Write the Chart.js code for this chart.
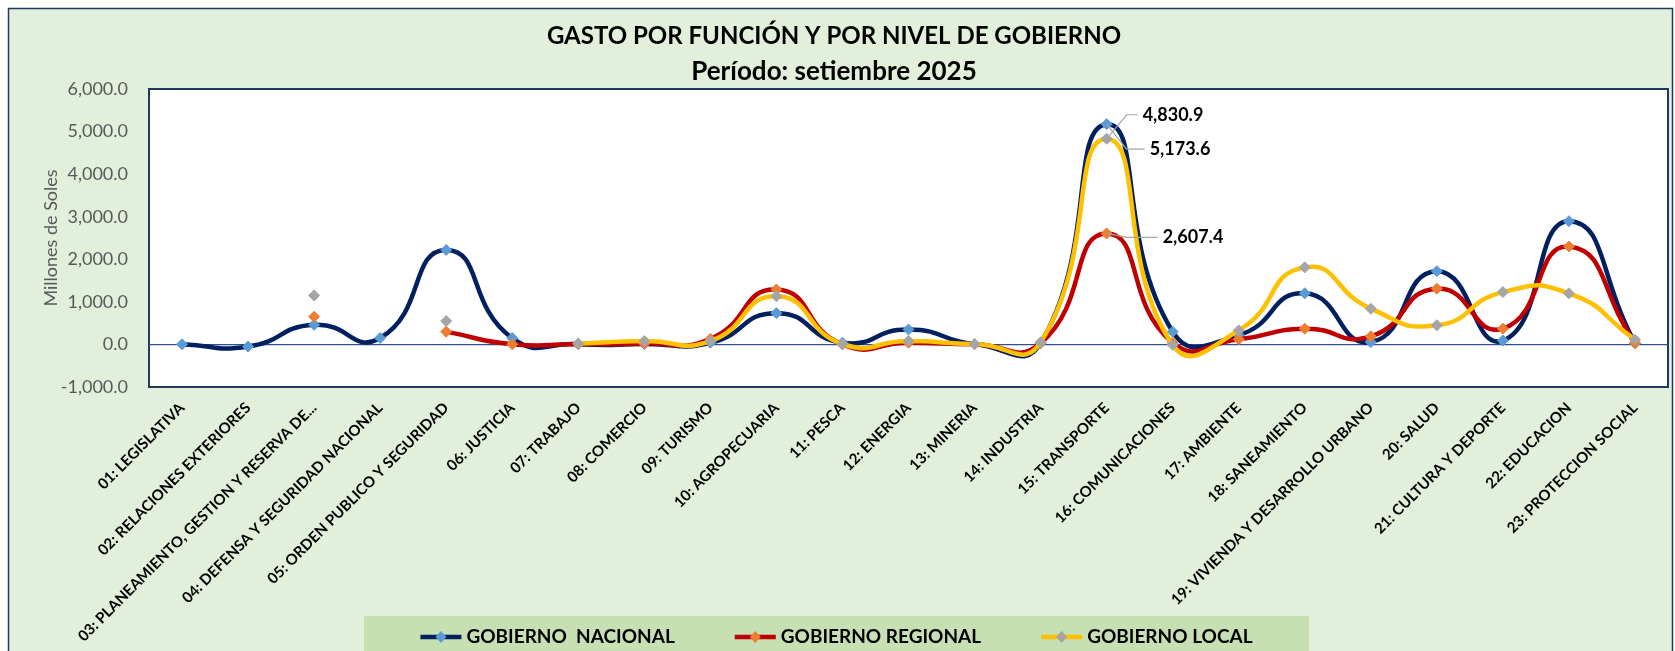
<!DOCTYPE html>
<html>
<head>
<meta charset="utf-8">
<script src="https://cdn.jsdelivr.net/npm/chart.js@4.4.1/dist/chart.umd.min.js"></script>
<style>
  html, body { margin: 0; padding: 0; background: #ffffff; }
  #wrap { width: 1675px; height: 651px; }
</style>
</head>
<body>
<div id="wrap"><canvas id="grafico" width="1675" height="651"></canvas></div>
<script>
const categorias = [
  "01: LEGISLATIVA", "02: RELACIONES EXTERIORES", "03: PLANEAMIENTO, GESTION Y RESERVA DE...",
  "04: DEFENSA Y SEGURIDAD NACIONAL", "05: ORDEN PUBLICO Y SEGURIDAD", "06: JUSTICIA",
  "07: TRABAJO", "08: COMERCIO", "09: TURISMO", "10: AGROPECUARIA", "11: PESCA",
  "12: ENERGIA", "13: MINERIA", "14: INDUSTRIA", "15: TRANSPORTE", "16: COMUNICACIONES",
  "17: AMBIENTE", "18: SANEAMIENTO", "19: VIVIENDA Y DESARROLLO URBANO", "20: SALUD",
  "21: CULTURA Y DEPORTE", "22: EDUCACION", "23: PROTECCION SOCIAL"
];
const gobiernoNacional = [5, -50, 460, 150, 2220, 150, 5, 10, 40, 735, 40, 350, 10, 30, 5173.6, 300, 220, 1200, 55, 1720, 90, 2895, 30];
const gobiernoRegional = [null, null, 650, null, 300, 5, 10, 20, 130, 1290, 0, 40, 5, 30, 2607.4, 40, 120, 370, 190, 1310, 370, 2300, 30];
const gobiernoLocal = [null, null, 1150, null, 550, null, 20, 80, 80, 1130, 10, 80, 10, 50, 4830.9, -10, 330, 1810, 840, 450, 1230, 1200, 110];
const ticksY = [-1000, 0, 1000, 2000, 3000, 4000, 5000, 6000];

const fuente = "Lato, 'Open Sans', sans-serif";
const fmt = v => v.toLocaleString('en-US', { minimumFractionDigits: 1, maximumFractionDigits: 1 });

// fondo verde, borde exterior y area blanca del grafico
const fondo = {
  id: 'fondo',
  beforeDraw(chart) {
    const ctx = chart.ctx, a = chart.chartArea;
    ctx.save();
    ctx.fillStyle = '#ffffff';
    ctx.fillRect(0, 0, chart.width, chart.height);
    ctx.fillStyle = '#E2EFDA';
    ctx.fillRect(8, 8, chart.width - 10, chart.height);
    ctx.strokeStyle = '#1F3864';
    ctx.lineWidth = 1.5;
    ctx.strokeRect(8.5, 8.5, chart.width - 11, chart.height + 10);
    ctx.fillStyle = '#ffffff';
    ctx.fillRect(a.left, a.top, a.right - a.left, a.bottom - a.top);
    ctx.lineWidth = 2;
    ctx.strokeRect(a.left, a.top, a.right - a.left, a.bottom - a.top);
    ctx.restore();
  }
};

// etiquetas de TRANSPORTE con lineas guia
const etiquetas = {
  id: 'etiquetas',
  afterDatasetsDraw(chart) {
    const ctx = chart.ctx;
    const i = categorias.indexOf("15: TRANSPORTE");
    const offs = [{ dx: 43, dy: 25 }, { dx: 56, dy: 4 }, { dx: 36, dy: -24 }];
    ctx.save();
    ctx.font = 'bold 18px ' + fuente;
    ctx.textBaseline = 'middle';
    ctx.textAlign = 'left';
    chart.data.datasets.forEach((ds, k) => {
      const p = chart.getDatasetMeta(k).data[i];
      const tx = p.x + offs[k].dx, ty = p.y + offs[k].dy;
      ctx.strokeStyle = '#A6A6A6';
      ctx.lineWidth = 1.2;
      ctx.beginPath();
      ctx.moveTo(p.x, p.y);
      ctx.lineTo(p.x + 20, ty);
      ctx.lineTo(tx - 5, ty);
      ctx.stroke();
      ctx.fillStyle = '#000000';
      ctx.fillText(fmt(ds.data[i]), tx, ty);
    });
    ctx.restore();
  }
};

// leyenda con fondo
const leyenda = {
  id: 'leyenda',
  afterDraw(chart) {
    const ctx = chart.ctx;
    const sets = chart.data.datasets;
    ctx.save();
    ctx.fillStyle = '#C6E0B4';
    ctx.fillRect(364, 616, 945, 40);
    ctx.font = 'bold 19px ' + fuente;
    ctx.textBaseline = 'middle';
    const anchos = sets.map(d => 46 + ctx.measureText(d.label).width);
    const sep = 60;
    const total = anchos.reduce((s, w) => s + w, 0) + sep * (sets.length - 1);
    let x = 836.5 - total / 2;
    const y = 637;
    sets.forEach((d, k) => {
      ctx.strokeStyle = d.borderColor;
      ctx.lineWidth = 4.5;
      ctx.beginPath();
      ctx.moveTo(x, y);
      ctx.lineTo(x + 41, y);
      ctx.stroke();
      ctx.fillStyle = d.pointBackgroundColor;
      ctx.beginPath();
      ctx.moveTo(x + 20.5, y - 6);
      ctx.lineTo(x + 26, y);
      ctx.lineTo(x + 20.5, y + 6);
      ctx.lineTo(x + 15, y);
      ctx.closePath();
      ctx.fill();
      ctx.fillStyle = '#000000';
      ctx.fillText(d.label, x + 46, y);
      x += anchos[k] + sep;
    });
    ctx.restore();
  }
};

new Chart(document.getElementById('grafico'), {
  type: 'line',
  data: {
    labels: categorias,
    datasets: [
      {
        label: 'GOBIERNO  NACIONAL',
        data: gobiernoNacional,
        borderColor: '#002060',
        backgroundColor: '#5B9BD5',
        pointBackgroundColor: '#5B9BD5',
        pointBorderColor: '#5B9BD5',
        order: 3,
      },
      {
        label: 'GOBIERNO REGIONAL',
        data: gobiernoRegional,
        borderColor: '#C00000',
        backgroundColor: '#ED7D31',
        pointBackgroundColor: '#ED7D31',
        pointBorderColor: '#ED7D31',
        order: 2,
      },
      {
        label: 'GOBIERNO LOCAL',
        data: gobiernoLocal,
        borderColor: '#FFC000',
        backgroundColor: '#A5A5A5',
        pointBackgroundColor: '#A5A5A5',
        pointBorderColor: '#A5A5A5',
        order: 1,
      },
    ],
  },
  options: {
    responsive: false,
    animation: false,
    devicePixelRatio: 1,
    layout: { padding: { left: 0, right: 7, top: 0, bottom: 0 } },
    elements: {
      line: { borderWidth: 4.5, tension: 0.55 },
      point: { pointStyle: 'rectRot', radius: 5.5, borderWidth: 1 },
    },
    plugins: {
      legend: { display: false },
      tooltip: { enabled: false },
      title: {
        display: true,
        text: 'GASTO POR FUNCIÓN Y POR NIVEL DE GOBIERNO',
        color: '#000000',
        font: { family: fuente, size: 24, weight: 'bold', lineHeight: 1.2 },
        padding: { top: 21.6, bottom: 0 },
      },
      subtitle: {
        display: true,
        text: 'Período: setiembre 2025',
        color: '#000000',
        font: { family: fuente, size: 26, weight: 'bold', lineHeight: 1.2 },
        padding: { top: 5.5, bottom: 1.9 },
      },
    },
    scales: {
      x: {
        offset: true,
        grid: { display: false, drawTicks: false },
        border: { display: false },
        ticks: {
          autoSkip: false,
          minRotation: 45,
          maxRotation: 45,
          padding: 12,
          color: '#000000',
          font: { family: fuente, size: 15, weight: 'bold' },
        },
        afterFit(scale) { scale.height = 264; },
      },
      y: {
        min: -1000,
        max: 6000,
        afterBuildTicks(scale) { scale.ticks = ticksY.map(v => ({ value: v })); },
        grid: {
          drawTicks: false,
          color: c => (c.tick && c.tick.value === 0 ? '#2F4F8F' : 'rgba(0,0,0,0)'),
          lineWidth: 1.2,
        },
        border: { display: false },
        ticks: {
          padding: 21,
          color: '#595959',
          font: { family: fuente, size: 18 },
          callback: v => fmt(v),
        },
        title: {
          display: true,
          text: 'Millones de Soles',
          color: '#595959',
          font: { family: fuente, size: 18 },
          padding: { top: 40, bottom: 0 },
        },
        afterFit(scale) { scale.width = 149; },
      },
    },
  },
  plugins: [fondo, etiquetas, leyenda],
});
</script>
</body>
</html>
